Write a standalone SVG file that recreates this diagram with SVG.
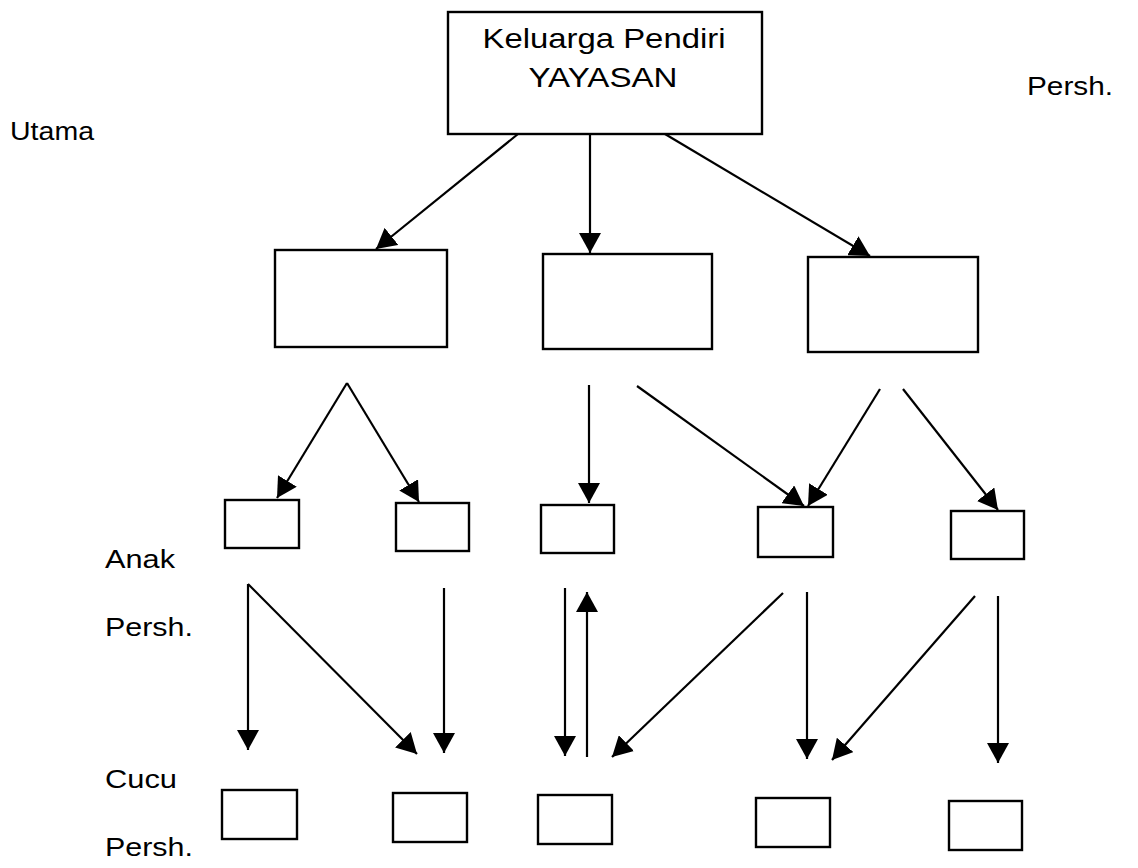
<svg xmlns="http://www.w3.org/2000/svg" width="1138" height="868" viewBox="0 0 1138 868">
  <style>
    .box { fill: #fff; stroke: #000; stroke-width: 2.4; }
    .lbl { font-family: "Liberation Sans", Arial, sans-serif; font-size: 26px; fill: #000; }
    .title { font-family: "Liberation Sans", Arial, sans-serif; font-size: 28px; fill: #000; text-anchor: middle; }
    .edge { stroke: #000; stroke-width: 2.2; fill: none; marker-end: url(#arrow); }
  </style>
  <defs>
    <marker id="arrow" viewBox="0 0 20 22" refX="20" refY="11" markerWidth="20" markerHeight="22" orient="auto" markerUnits="userSpaceOnUse">
      <path d="M0,0 L20,11 L0,22 z" fill="#000"/>
    </marker>
  </defs>
  <rect width="1138" height="868" fill="#fff"/>

  <!-- level labels -->
  <g id="labels">
    <text class="lbl" x="10" y="140" textLength="84" lengthAdjust="spacingAndGlyphs">Utama</text>
    <text class="lbl" x="1027" y="95" textLength="86" lengthAdjust="spacingAndGlyphs">Persh.</text>
    <text class="lbl" x="105" y="568" textLength="70" lengthAdjust="spacingAndGlyphs">Anak</text>
    <text class="lbl" x="105" y="636" textLength="88" lengthAdjust="spacingAndGlyphs">Persh.</text>
    <text class="lbl" x="105" y="788" textLength="72" lengthAdjust="spacingAndGlyphs">Cucu</text>
    <text class="lbl" x="105" y="856" textLength="88" lengthAdjust="spacingAndGlyphs">Persh.</text>
  </g>

  <!-- root -->
  <g id="root">
    <rect class="box" x="448" y="12" width="314" height="122"/>
    <text class="title" x="604" y="48" textLength="243" lengthAdjust="spacingAndGlyphs">Keluarga Pendiri</text>
    <text class="title" x="603" y="87" textLength="149" lengthAdjust="spacingAndGlyphs">YAYASAN</text>
  </g>

  <!-- main companies -->
  <g id="utama-1"><rect class="box" x="275" y="250" width="172" height="97"/></g>
  <g id="utama-2"><rect class="box" x="543" y="254" width="169" height="95"/></g>
  <g id="utama-3"><rect class="box" x="808" y="257" width="170" height="95"/></g>

  <!-- subsidiaries -->
  <g id="anak-1"><rect class="box" x="225" y="500" width="74" height="48"/></g>
  <g id="anak-2"><rect class="box" x="396" y="503" width="73" height="48"/></g>
  <g id="anak-3"><rect class="box" x="541" y="505" width="73" height="48"/></g>
  <g id="anak-4"><rect class="box" x="758" y="507" width="75" height="50"/></g>
  <g id="anak-5"><rect class="box" x="951" y="511" width="73" height="48"/></g>

  <!-- sub-subsidiaries -->
  <g id="cucu-1"><rect class="box" x="222" y="790" width="75" height="49"/></g>
  <g id="cucu-2"><rect class="box" x="393" y="793" width="74" height="49"/></g>
  <g id="cucu-3"><rect class="box" x="538" y="795" width="74" height="49"/></g>
  <g id="cucu-4"><rect class="box" x="756" y="798" width="74" height="49"/></g>
  <g id="cucu-5"><rect class="box" x="949" y="801" width="73" height="49"/></g>

  <g id="connectors">
    <!-- root to main companies -->
    <line class="edge" x1="518" y1="134" x2="376" y2="249"/>
    <line class="edge" x1="590" y1="134" x2="590" y2="253"/>
    <line class="edge" x1="665" y1="134" x2="870" y2="256"/>

    <!-- main companies to subsidiaries -->
    <line class="edge" x1="347" y1="383" x2="277" y2="498"/>
    <line class="edge" x1="347" y1="383" x2="419" y2="502"/>
    <line class="edge" x1="589" y1="385" x2="589" y2="503"/>
    <line class="edge" x1="637" y1="386" x2="804" y2="506"/>
    <line class="edge" x1="880" y1="389" x2="808" y2="506"/>
    <line class="edge" x1="903" y1="389" x2="998" y2="510"/>

    <!-- subsidiaries to sub-subsidiaries -->
    <line class="edge" x1="248" y1="584" x2="248" y2="750"/>
    <line class="edge" x1="248" y1="584" x2="417" y2="754"/>
    <line class="edge" x1="444" y1="588" x2="444" y2="753"/>
    <line class="edge" x1="565" y1="588" x2="565" y2="756"/>
    <line class="edge" x1="587" y1="757" x2="587" y2="592"/>
    <line class="edge" x1="783" y1="593" x2="612" y2="757"/>
    <line class="edge" x1="807" y1="592" x2="807" y2="759"/>
    <line class="edge" x1="975" y1="596" x2="832" y2="760"/>
    <line class="edge" x1="998" y1="596" x2="998" y2="763"/>
  </g>
</svg>
